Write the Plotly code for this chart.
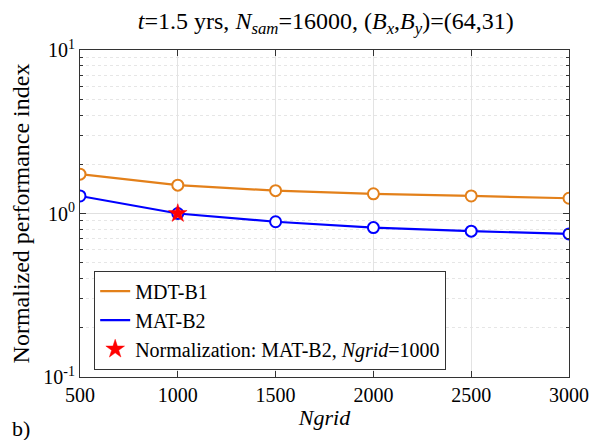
import plotly.graph_objects as go

ngrid = [500, 1000, 1500, 2000, 2500, 3000]
mdt_b1 = [1.74, 1.49, 1.38, 1.32, 1.28, 1.24]
mat_b2 = [1.28, 1.00, 0.89, 0.82, 0.78, 0.75]
norm_x = [1000]
norm_y = [1.0]
ytick_vals = [0.1, 1, 10]
ytick_text = ["10<sup>-1</sup>", "10<sup>0</sup>", "10<sup>1</sup>"]

orange = "#E3801A"
blue = "#0000FF"
FONT = "Liberation Serif"

fig = go.Figure()
# lines (legend entries show line only)
fig.add_trace(go.Scatter(x=ngrid, y=mdt_b1, mode="lines", name="MDT-B1",
                         line=dict(color=orange, width=2.2)))
fig.add_trace(go.Scatter(x=ngrid, y=mat_b2, mode="lines", name="MAT-B2",
                         line=dict(color=blue, width=2.2)))
# markers
fig.add_trace(go.Scatter(x=ngrid, y=mdt_b1, mode="markers", showlegend=False,
                         marker=dict(symbol="circle", size=11, color="white",
                                     line=dict(color=orange, width=2))))
fig.add_trace(go.Scatter(x=ngrid, y=mat_b2, mode="markers", showlegend=False,
                         marker=dict(symbol="circle", size=11, color="white",
                                     line=dict(color=blue, width=2))))
fig.add_trace(go.Scatter(x=norm_x, y=norm_y, mode="markers",
                         name="Normalization: MAT-B2, <i>Ngrid</i>=1000",
                         marker=dict(symbol="star", size=14, color="red",
                                     line=dict(color="red", width=0.5))))

# page body has an 8px margin, so the figure is sized to fit the 602x440 window
fig.update_layout(
    width=594, height=432,
    margin=dict(l=72, r=33, t=42, b=63),
    paper_bgcolor="white", plot_bgcolor="white",
    font=dict(family=FONT, size=20, color="black"),
    title=dict(text="<i>t</i>=1.5 yrs, <i>N</i><sub><i>sam</i></sub>=16000, (<i>B</i><sub><i>x</i></sub>,<i>B</i><sub><i>y</i></sub>)=(64,31)",
               x=0.535, xanchor="center", y=0.972, yanchor="middle",
               font=dict(family=FONT, size=24)),
    legend=dict(x=0.029, y=0.174, xanchor="left", yanchor="middle",
                bordercolor="#333", borderwidth=1, bgcolor="white",
                font=dict(family=FONT, size=20), tracegroupgap=0,
                itemwidth=30),
    showlegend=True,
)
fig.update_xaxes(
    range=[500, 3000], dtick=500, tick0=500,
    showline=True, linecolor="#333", linewidth=1, mirror="allticks",
    ticks="inside", ticklen=6, tickcolor="#333",
    showgrid=True, gridcolor="#E3E3E3", gridwidth=1,
    zeroline=False,
    title=dict(text="<i>Ngrid</i>", font=dict(family=FONT, size=22), standoff=4),
    tickfont=dict(family=FONT, size=20),
)
fig.update_yaxes(
    type="log", range=[-1, 1],
    tickvals=ytick_vals, ticktext=ytick_text,
    showline=True, linecolor="#333", linewidth=1, mirror="allticks",
    ticks="inside", ticklen=6, tickcolor="#333",
    showgrid=True, gridcolor="#E0E0E0", gridwidth=1,
    minor=dict(ticks="inside", ticklen=3, tickcolor="#333", showgrid=True,
               gridcolor="#E6E6E6", griddash="dot", dtick="D1"),
    zeroline=False,
    title=dict(text="Normalized performance index", font=dict(family=FONT, size=24), standoff=8),
    tickfont=dict(family=FONT, size=20),
)
fig.add_annotation(text="b)", xref="paper", yref="paper", x=-0.121, y=-0.156,
                   xanchor="center", yanchor="middle", showarrow=False,
                   font=dict(family=FONT, size=22))

fig.write_html("out.html")
